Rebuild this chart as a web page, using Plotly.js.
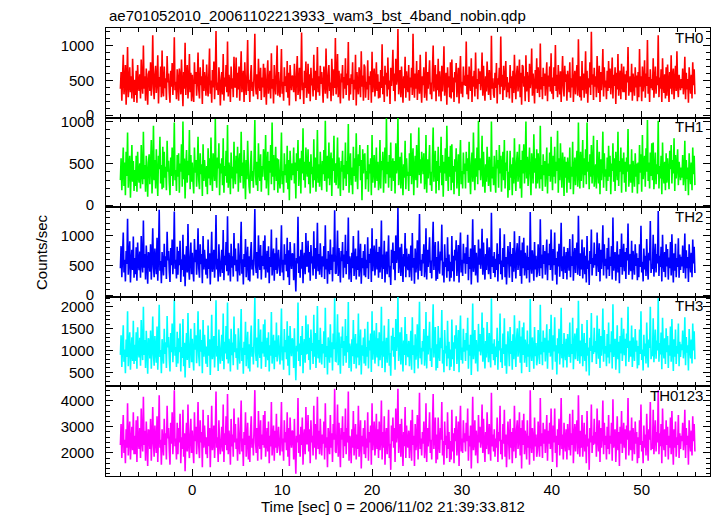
<!DOCTYPE html>
<html>
<head>
<meta charset="utf-8">
<script src="https://cdn.plot.ly/plotly-3.0.1.min.js"></script>
<style>html,body{margin:0;padding:0;background:#fff}#chart{width:717px;height:516px}</style>
</head>
<body>
<div id="chart"></div>
<script>
// ---- data (time grid starts at -8 s, step 0.08 s) ----
const TIME_START = -8;
const TIME_STEP = 0.08;
const bandNames = ["TH0", "TH1", "TH2", "TH3", "TH0123"];

const th0 = [
380,620,210,540,870,300,460,720,150,510,980,260,430,690,330,560,240,810,470,190,
510,290,640,180,720,430,350,590,240,800,460,310,1000,380,560,210,670,440,150,590,
640,350,760,280,520,1150,400,230,590,710,320,480,860,170,550,410,700,260,930,360,
270,700,390,530,220,850,470,600,330,180,640,410,750,290,520,1120,360,480,230,660,
490,210,670,540,300,800,440,130,620,380,1040,290,560,720,240,450,880,330,610,200,
580,340,190,760,450,620,280,510,900,370,240,690,430,560,160,800,350,620,470,280,
730,420,270,590,960,310,500,180,650,400,770,230,540,1210,360,470,290,690,520,140,
450,620,300,880,210,540,410,720,330,1060,270,580,460,190,700,380,530,260,840,410,
400,830,250,610,370,700,210,560,920,330,480,640,190,760,430,290,590,1080,350,510,
190,560,720,350,480,270,640,1170,420,300,590,230,810,460,350,680,220,540,400,740,
260,680,420,150,570,790,310,460,640,240,890,380,520,170,720,450,300,610,1000,280,
620,380,260,540,950,310,480,210,690,420,560,330,780,250,610,140,720,490,360,570,
550,330,740,460,200,600,850,290,410,680,230,530,1190,360,470,160,640,390,770,250,
400,740,310,590,200,680,430,530,270,870,360,640,220,490,980,330,560,280,710,450,
620,410,180,700,490,310,960,430,240,580,720,350,470,200,810,540,280,660,390,1110,
300,520,880,260,640,390,170,600,470,720,240,550,380,820,290,600,430,1050,210,530,
300,590,450,760,220,510,370,870,140,620,440,300,690,530,260,920,410,570,210,730,
690,250,480,370,790,220,560,440,630,180,910,330,500,670,270,440,760,350,590,240,
480,250,650,390,1020,300,560,190,710,440,610,270,830,370,500,160,680,420,590,940,
350,600,200,810,440,530,1240,300,470,650,260,700,420,180,560,390,840,250,630,410,
330,720,210,540,400,680,290,1170,460,250,600,380,780,220,510,650,310,870,430,180,
560,430,690,250,370,910,210,620,380,540,790,300,470,230,650,1000,340,510,720,200,
590,360,810,270,630,450,200,710,340,540,990,280,470,610,150,690,400,560,260,760,
240,800,330,540,190,620,470,750,260,440,680,170,590,850,310,480,260,700,430,570,
420,1060,300,580,230,700,480,350,820,190,560,410,640,270,900,380,520,230,670,450,
630,360,480,900,280,710,400,210,560,340,770,490,290,650,410,220,1140,380,530,300,
250,610,390,750,170,530,440,680,300,1130,410,580,220,710,360,490,780,260,550,330,
470,240,720,390,560,180,640,320,870,450,230,590,710,340,480,800,260,610,150,720,
700,410,560,200,860,340,620,470,190,740,390,510,960,280,600,430,170,650,380,820,
320,690,450,260,1030,370,550,230,680,420,600,280,520,760,200,570,410,700,340,890,
310,540,230,690,420,1010,350,580,260,720,460,300,630,190,540,850,400,270,710,480,
590,210,640,470,330,760,250,530,400,830,190,480,640,300,560,720,280,1090,430,260,
560,210,780,360,600,250,470,920,310,640,180,530,400,760,290,1200,440,590,220,680,
410,560,260,850,480,320,710,190,620,360,550,950,270,690,400,500,230,640,350,780,
390,670,300,510,830,240,580,420,690,160,610,370,880,280,500,640,230,740,450,330,
700,330,590,220,640,470,980,280,410,560,330,740,210,600,460,280,690,400,570,200,
620,260,950,410,560,200,700,340,480,790,250,600,420,1080,310,550,190,660,390,520,
360,820,250,480,700,310,560,430,1150,260,540,380,660,190,820,450,320,590,240,690,
280,730,450,190,620,380,860,300,540,670,230,490,710,350,920,420,260,580,470,360,
520,390,670,300,450,840,230,610,370,520,180,690,470,310,580,240,760,430,660,300];

const th1 = [
300,560,180,420,690,230,510,120,640,350,870,210,460,590,90,400,720,280,530,170,
420,230,590,160,640,350,270,500,200,720,390,250,880,310,480,160,590,370,100,510,
610,250,470,780,140,390,950,300,540,200,670,350,110,590,430,820,260,480,190,700,
210,640,330,460,180,770,400,530,270,120,570,350,690,230,450,990,300,420,170,600,
340,620,150,500,400,730,220,1000,310,560,80,450,660,270,530,360,900,190,600,280,
510,280,140,690,390,540,220,440,820,300,190,620,370,490,110,730,290,540,400,220,
470,130,680,320,560,240,810,400,170,620,450,290,1030,360,210,570,440,740,120,500,
380,560,240,800,150,470,350,650,270,960,210,510,390,130,630,320,460,200,760,350,
250,590,380,700,160,490,620,270,880,350,510,200,660,410,70,540,310,770,430,220,
140,490,650,290,410,210,570,1020,360,240,520,170,740,400,290,610,160,470,340,670,
580,300,840,200,450,640,120,530,390,720,250,990,340,600,180,480,700,290,560,150,
550,320,200,470,870,250,410,150,620,360,490,270,710,190,540,60,650,420,300,500,
360,690,260,510,80,620,410,780,230,470,560,140,650,380,920,300,520,210,690,440,
340,670,250,520,140,610,370,460,210,790,300,570,160,420,900,270,490,220,640,390,
180,530,370,660,290,1010,400,160,590,320,750,240,490,630,110,560,410,830,270,500,
240,450,810,200,570,330,110,530,400,650,180,480,320,750,230,530,370,970,150,460,
620,240,450,130,700,350,560,280,860,400,190,610,470,720,300,540,60,670,380,590,
620,190,410,310,720,160,490,380,560,120,840,270,430,600,210,380,690,290,520,180,
310,780,200,530,420,640,150,480,690,260,1040,370,520,210,600,330,750,170,450,560,
290,530,140,740,380,460,1050,240,400,580,200,630,360,120,490,330,770,190,560,350,
400,170,620,350,860,250,510,680,120,440,590,300,720,210,480,930,360,550,260,640,
490,370,620,190,310,840,150,550,320,470,720,240,400,170,580,930,280,440,650,140,
530,290,700,180,470,390,820,240,600,100,520,380,680,290,950,430,170,580,340,710,
180,730,270,470,130,550,400,680,200,380,610,110,520,780,250,410,200,630,370,500,
200,640,410,560,270,760,360,130,500,630,280,870,410,180,560,340,690,250,1010,420,
560,300,410,830,220,640,340,150,490,280,700,420,230,580,350,160,1000,320,460,240,
590,320,150,660,440,540,210,720,380,590,160,480,640,300,780,200,510,410,650,90,
400,180,650,330,490,120,570,260,800,390,170,520,640,280,410,730,200,540,90,650,
380,730,260,490,1000,320,580,230,460,690,350,120,620,450,260,850,390,560,200,670,
260,620,390,200,950,310,480,170,610,360,530,220,450,690,140,500,350,630,280,820,
450,180,590,340,700,260,520,410,890,150,560,300,740,420,210,630,480,110,580,330,
520,150,570,400,270,690,190,460,340,760,130,410,570,240,490,650,220,990,370,200,
640,290,480,780,210,560,360,670,250,990,400,520,190,610,340,720,260,470,830,220,
350,490,200,780,410,260,640,130,550,300,480,880,210,620,340,430,170,570,290,710,
340,590,130,500,410,740,280,560,170,640,460,300,880,230,530,400,690,150,560,370,
630,270,520,160,570,400,910,220,350,490,270,670,150,530,390,220,620,340,500,140,
510,250,720,390,610,160,840,310,470,590,220,680,400,1020,290,510,200,630,350,740,
300,750,190,410,630,250,490,370,1010,200,470,320,590,130,750,380,260,520,180,620,
270,560,380,190,650,430,720,260,540,380,800,170,600,320,470,670,240,520,410,300,
450,330,600,240,380,770,170,540,310,450,120,620,400,250,510,180,690,370,590,240];

const th2 = [
450,820,300,660,1050,380,590,230,740,520,1280,340,610,900,210,560,760,420,980,290,
620,350,800,240,880,530,420,730,290,990,560,380,1250,460,690,260,830,540,190,720,
680,390,850,260,620,1120,470,300,780,560,350,960,240,650,1430,410,570,200,720,530,
330,860,470,650,270,1060,580,740,400,220,790,500,930,350,640,1400,440,590,280,810,
340,740,500,910,220,600,420,1010,310,680,150,560,820,380,1190,470,260,640,880,350,
710,410,230,940,550,760,340,620,1120,450,290,850,520,690,200,990,430,760,570,340,
610,280,930,440,700,180,580,1060,390,520,760,290,640,1340,430,610,230,850,500,310,
550,760,370,1090,250,660,500,890,400,1320,330,710,560,230,860,460,650,310,1040,500,
780,400,590,230,870,520,330,720,1230,360,600,180,690,470,940,300,560,810,250,650,
230,690,890,430,590,330,790,1440,510,370,720,280,1000,560,420,840,260,660,490,910,
430,1000,290,560,740,380,820,200,640,470,1100,330,590,780,240,700,420,960,360,550,
760,460,320,660,1170,380,590,250,850,510,690,400,960,300,750,170,890,600,440,700,
680,250,870,410,60,620,530,1310,370,650,290,760,440,890,200,590,710,350,1040,480,
490,910,380,720,240,840,530,650,330,1070,440,790,270,600,1210,400,690,340,870,550,
300,650,480,820,270,1170,430,610,190,740,510,350,930,420,680,230,800,560,1420,370,
360,640,1080,320,790,480,210,740,570,890,290,680,460,1010,350,740,520,1300,260,650,
570,220,710,450,990,320,590,780,260,650,420,1080,310,540,860,190,620,450,740,330,
850,300,590,450,970,270,690,540,780,220,1120,400,610,830,330,540,940,430,720,290,
810,380,560,1250,270,680,440,910,210,580,730,350,620,1000,300,490,170,760,540,880,
430,740,250,1000,540,650,1460,370,580,800,320,860,510,220,690,480,1040,300,780,500,
420,690,300,570,830,240,1040,460,620,190,780,380,550,920,260,680,1360,410,590,320,
690,530,850,300,460,1120,260,760,470,660,970,370,580,280,800,1230,420,630,890,240,
640,270,900,480,360,730,580,1180,330,560,210,850,470,620,290,970,400,680,230,560,
290,990,400,660,230,760,580,920,320,540,840,210,720,1050,380,590,320,860,530,700,
360,800,520,1010,250,640,440,780,180,600,1270,390,520,840,330,710,460,210,930,510,
780,440,590,1110,340,880,490,260,690,420,950,600,350,800,500,270,1380,470,650,370,
720,300,610,420,870,230,690,520,1120,350,580,260,790,470,1020,300,640,180,560,820,
580,290,890,480,690,220,790,390,1070,550,280,720,870,420,590,990,320,750,190,880,
450,960,330,710,560,280,830,420,640,210,1390,500,360,750,570,240,890,430,660,300,
390,850,550,320,1270,450,680,280,840,520,740,340,640,930,250,700,500,860,420,1100,
580,240,770,500,1050,340,620,180,730,480,860,310,590,1210,400,650,270,810,520,370,
720,260,790,580,410,940,300,650,490,1020,240,590,790,370,690,880,340,1330,530,320,
700,430,930,280,560,800,350,660,210,990,440,580,170,740,520,1100,330,620,460,880,
500,690,320,1050,590,390,870,230,760,440,680,1170,330,850,490,610,280,790,430,960,
320,640,490,820,260,1300,410,590,720,240,550,900,380,680,200,770,470,1030,340,590,
860,400,720,270,790,580,1200,340,500,690,400,910,260,740,560,340,850,490,700,250,
620,300,850,470,1160,380,560,230,780,430,660,320,940,500,260,710,580,1240,370,520,
440,1010,310,590,860,380,690,530,1410,320,660,470,810,230,1010,550,390,720,300,850,
480,770,260,630,450,890,330,1020,560,210,700,410,860,300,620,470,950,290,680,420,
640,480,830,370,550,1030,280,750,450,640,220,850,580,380,710,300,930,530,810,370];

const th3 = [
900,1350,620,1100,1580,740,1020,480,1250,850,1900,640,1130,1420,560,970,1300,760,1680,690,
1130,760,1420,580,1530,990,840,1290,650,1700,1030,780,2000,900,1240,600,1450,1010,470,1280,
1200,820,1460,580,1050,1780,900,650,1330,1000,720,1550,560,1120,2050,850,1010,480,1260,930,
700,1500,920,1190,600,1790,1070,1310,820,520,1400,960,1620,730,1160,2170,880,1080,620,1430,
700,1280,960,1620,520,1080,830,1720,640,1180,380,1040,1400,780,1860,920,600,1150,1500,730,
1270,830,540,1630,1020,1350,710,1130,1900,880,640,1480,970,1240,480,1700,860,1360,1050,700,
1090,620,1570,880,1260,440,1020,1820,800,950,1330,610,1140,2150,860,1100,530,1480,960,700,
1040,1360,760,1850,570,1200,930,1560,800,2100,700,1270,1040,520,1500,890,1180,660,1780,960,
1370,830,1050,560,1510,970,700,1260,1950,760,1060,470,1200,900,1660,640,1020,1430,590,1140,
520,1250,1570,860,1080,680,1400,2210,960,760,1300,610,1720,1030,830,1480,580,1200,930,1600,
860,1710,620,1010,1290,780,1420,520,1120,880,1880,700,1040,1360,570,1230,850,1640,750,990,
1350,900,680,1200,1960,770,1090,560,1490,960,1240,800,1670,650,1340,430,1560,1100,870,1280,
1200,600,1510,840,320,1110,980,2100,760,1160,640,1330,900,1560,480,1060,1260,720,1800,930,
940,1600,780,1290,560,1480,990,1170,690,1820,860,1400,600,1090,2020,820,1240,720,1520,1010,
680,1150,930,1440,600,1980,850,1100,450,1300,990,720,1600,840,1190,540,1390,1030,2200,760,
750,1170,1830,660,1410,900,470,1320,1060,1550,650,1220,880,1720,720,1330,960,2110,600,1160,
1020,520,1260,870,1700,690,1070,1380,590,1160,840,1850,660,980,1480,450,1120,880,1300,700,
1500,650,1080,860,1660,590,1230,1000,1390,510,1900,790,1110,1460,700,990,1630,840,1280,640,
1420,780,1030,2000,600,1210,860,1570,500,1050,1290,720,1110,1720,650,940,420,1340,1000,1520,
860,1310,560,1720,990,1180,2230,760,1060,1420,680,1530,950,520,1230,900,1770,660,1380,960,
850,1220,640,1040,1450,560,1760,900,1120,480,1370,790,1000,1600,590,1190,2120,820,1060,680,
1220,980,1490,650,880,1880,590,1340,910,1180,1660,760,1050,620,1400,2060,840,1130,1540,540,
1140,600,1560,920,760,1290,1050,1930,700,1010,500,1470,930,1110,640,1680,820,1200,550,1020,
630,1710,800,1190,530,1350,1040,1580,690,990,1470,500,1290,1800,780,1070,700,1500,970,1240,
760,1400,1000,1750,580,1130,880,1360,440,1080,2080,800,990,1470,700,1240,910,520,1610,980,
1380,890,1060,1870,740,1520,930,590,1220,840,1650,1090,730,1400,990,610,2190,920,1160,780,
1260,660,1090,850,1520,560,1220,1000,1850,730,1050,600,1390,920,1740,650,1140,470,1010,1440,
1030,640,1540,920,1220,560,1370,800,1810,1010,620,1280,1510,860,1050,1680,720,1320,480,1530,
900,1640,720,1250,1050,620,1460,860,1140,510,2180,970,760,1300,1040,580,1540,870,1170,660,
820,1470,1020,690,2050,910,1200,660,1460,960,1290,750,1120,1600,580,1230,950,1490,860,1820,
1040,560,1350,980,1760,740,1120,450,1280,930,1500,680,1060,1980,820,1150,610,1400,1000,780,
1270,610,1380,1050,850,1640,720,1150,920,1750,570,1040,1390,800,1220,1510,760,2140,980,700,
1230,870,1610,640,1030,1400,760,1170,520,1700,880,1070,430,1290,990,1860,730,1110,920,1520,
960,1220,690,1800,1070,810,1500,600,1330,880,1190,1960,740,1470,930,1100,640,1380,840,1640,
700,1140,960,1440,590,2060,850,1060,1270,560,1010,1580,800,1200,480,1330,930,1750,760,1050,
1500,890,1270,640,1390,1060,2000,740,940,1220,860,1570,620,1300,1020,760,1490,970,1230,590,
1100,660,1480,920,1900,780,1020,540,1360,870,1160,700,1640,990,610,1250,1060,2000,800,970,
870,1740,730,1080,1480,810,1230,1000,2200,740,1170,910,1410,570,1750,1030,820,1280,690,1510,
960,1330,600,1120,880,1550,740,1720,1050,530,1260,860,1480,690,1100,930,1620,640,1200,850,
1140,1010,1460,820,1030,1760,660,1310,950,1120,540,1490,1060,820,1250,700,1620,1000,1440,800];

const th0123 = [
2300,3100,1800,2700,3450,2000,2500,1600,2900,2200,3900,1900,2650,3200,1750,2400,3000,2100,3550,1950,
2650,1950,3250,1650,3400,2400,2150,2950,1800,3700,2500,2050,4150,2300,2850,1700,3200,2450,1500,2900,
2800,2150,3300,1700,2550,3750,2350,1850,3050,2450,2000,3400,1650,2700,4200,2200,2500,1550,2900,2300,
1900,3300,2300,2750,1750,3800,2550,2950,2100,1550,3150,2350,3550,1950,2700,4400,2250,2550,1750,3150,
1950,2950,2400,3500,1600,2600,2150,3650,1850,2750,1300,2500,3150,2050,3850,2350,1800,2700,3300,2000,
2850,2150,1600,3550,2450,3000,1950,2650,3950,2250,1800,3250,2400,2800,1450,3650,2200,3050,2500,1950,
2600,1800,3450,2250,2950,1450,2500,3800,2100,2350,3050,1800,2700,4350,2200,2600,1650,3250,2400,1950,
2450,3000,2050,3850,1650,2750,2300,3400,2100,4250,1950,2850,2450,1550,3300,2250,2700,1850,3700,2400,
3100,2150,2550,1700,3350,2400,1950,2900,4000,2050,2550,1500,2800,2300,3550,1850,2500,3150,1750,2650,
1650,2800,3400,2200,2550,1900,3100,4400,2400,2000,2950,1700,3600,2450,2150,3250,1750,2700,2300,3450,
2200,3600,1850,2450,2950,2050,3200,1600,2650,2250,3950,1900,2500,3050,1700,2850,2200,3500,2000,2400,
3000,2250,1900,2700,3950,2050,2550,1700,3250,2400,2800,2100,3550,1850,2950,1500,3350,2600,2200,2850,
2800,1750,3300,2150,1200,2650,2400,4100,2000,2700,1850,3000,2300,3350,1550,2550,2900,1950,3750,2350,
2350,3450,2050,2900,1600,3250,2400,2650,1900,3800,2200,3100,1750,2550,4150,2150,2850,1950,3300,2450,
1900,2700,2350,3200,1750,3900,2200,2600,1450,2950,2450,1950,3450,2200,2750,1650,3100,2500,4450,2050,
2000,2650,3850,1850,3150,2300,1450,2950,2500,3400,1800,2800,2250,3700,1950,2950,2400,4350,1700,2650,
2500,1600,2900,2200,3600,1900,2600,3100,1750,2700,2150,3800,1850,2450,3250,1400,2650,2250,2950,1950,
3250,1800,2550,2200,3550,1700,2800,2400,3050,1550,3900,2100,2600,3200,1900,2400,3500,2150,2900,1800,
3200,2100,2500,4000,1750,2800,2200,3400,1550,2550,2950,1950,2650,3650,1800,2350,1350,3050,2450,3350,
2200,2950,1650,3700,2400,2750,4450,2000,2500,3100,1850,3300,2350,1500,2800,2250,3750,1800,3050,2350,
2200,2850,1800,2500,3250,1700,3650,2300,2650,1500,3100,2100,2450,3450,1750,2750,4300,2150,2550,1900,
2800,2350,3200,1800,2200,3900,1650,2950,2250,2700,3550,2000,2500,1750,3050,4250,2150,2650,3350,1600,
2700,1750,3350,2300,2000,2950,2500,3950,1900,2450,1550,3200,2300,2650,1800,3550,2150,2800,1650,2450,
1750,3650,2050,2750,1600,2950,2450,3400,1900,2400,3200,1500,2900,3800,2050,2550,2000,3250,2400,2750,
2050,3150,2450,3700,1700,2650,2250,3050,1400,2550,4150,2100,2400,3250,1900,2850,2300,1600,3450,2400,
3000,2200,2500,3850,2000,3300,2300,1650,2800,2150,3550,2550,1950,3100,2400,1700,4300,2250,2700,2050,
2900,1850,2550,2200,3350,1650,2800,2450,3800,1950,2500,1750,3100,2350,3650,1850,2700,1450,2450,3200,
2450,1750,3300,2200,2800,1600,2950,2050,3800,2450,1800,2900,3250,2150,2500,3550,1900,2950,1400,3250,
2300,3500,1950,2850,2500,1750,3250,2200,2650,1550,4400,2400,2000,2950,2500,1700,3350,2250,2700,1850,
2100,3200,2450,1850,4100,2250,2750,1800,3150,2350,2900,2000,2650,3450,1700,2850,2350,3150,2150,3700,
2500,1650,3050,2400,3700,2000,2650,1450,2900,2300,3300,1900,2500,4100,2150,2700,1750,3150,2450,2050,
2900,1750,3100,2500,2100,3500,1900,2750,2300,3650,1600,2550,3100,2050,2800,3250,1950,4200,2400,1850,
2850,2200,3450,1850,2500,3150,2050,2700,1600,3600,2250,2550,1350,2950,2400,3850,2000,2650,2300,3300,
2350,2800,1850,3700,2550,2050,3250,1650,2950,2200,2750,4000,1950,3150,2300,2650,1750,3000,2150,3450,
1950,2650,2350,3150,1700,4050,2200,2500,2900,1650,2450,3400,2100,2800,1500,3000,2350,3600,2000,2500,
3150,2200,2900,1750,3050,2500,4100,1900,2350,2850,2100,3350,1700,2950,2450,1950,3200,2350,2800,1600,
2600,1800,3250,2300,3850,2050,2450,1600,3050,2200,2700,1900,3500,2400,1700,2900,2500,3950,2100,2350,
2150,3650,1950,2600,3250,2050,2800,2400,4400,1950,2750,2250,3100,1600,3700,2500,2100,2900,1850,3250,
2300,3000,1750,2650,2200,3350,1950,3600,2500,1550,2900,2200,3200,1850,2600,2300,3450,1800,2750,2150,
2650,2450,3150,2100,2500,3650,1800,2950,2300,2650,1550,3250,2500,2050,2850,1900,3400,2450,3100,2050];

const seriesValues = [th0, th1, th2, th3, th0123];
const yTickVals = [[0, 500, 1000], [0, 500, 1000], [0, 500, 1000], [500, 1000, 1500, 2000], [2000, 3000, 4000]];
const xTickVals = [0, 10, 20, 30, 40, 50];
const titleText = "ae701052010_20061102213933_wam3_bst_4band_nobin.qdp";
const xTitleText = "Time [sec] 0 = 2006/11/02 21:39:33.812";
const yTitleText = "Counts/sec";

// ---- styling ----
const colors = ["#ff0000", "#00ff00", "#0000ff", "#00ffff", "#ff00ff"];
const yRanges = [[-34, 1253], [-24, 1048], [-28, 1472], [177, 2231], [1115, 4543]];
const yMinor = [100, 100, 100, 100, 200];
const FONT = {family: "Liberation Sans, Arial, sans-serif", size: 15, color: "#000"};

const traces = [];
const layout = {
  width: 717, height: 516,
  margin: {l: 106, r: 7, t: 27.5, b: 40, pad: 0},
  paper_bgcolor: "#fff", plot_bgcolor: "#fff",
  showlegend: false,
  font: FONT,
  annotations: []
};

const n = seriesValues.length;
for (let k = 0; k < n; k++) {
  const sfx = k === 0 ? "" : String(k + 1);
  traces.push({
    type: "scatter", mode: "lines",
    x0: TIME_START, dx: TIME_STEP,
    y: seriesValues[k],
    xaxis: "x" + sfx, yaxis: "y" + sfx,
    line: {color: colors[k], width: 1.6, simplify: false},
    hoverinfo: "skip"
  });
  const top = 1 - k / n, bot = 1 - (k + 1) / n;
  layout["xaxis" + sfx] = {
    domain: [0, 1], anchor: "y" + sfx,
    range: [-9.6, 57.6],
    tickmode: "array", tickvals: xTickVals,
    ticks: "inside", ticklen: 7, tickwidth: 1, tickcolor: "#000",
    minor: {dtick: 2, tick0: 0, ticks: "inside", ticklen: 4, tickcolor: "#000", showgrid: false},
    showline: true, linecolor: "#000", linewidth: 1, mirror: "allticks",
    showgrid: false, zeroline: false,
    showticklabels: k === n - 1,
    ticklabelstandoff: 0,
    tickfont: FONT
  };
  layout["yaxis" + sfx] = {
    domain: [bot, top], anchor: "x" + sfx,
    range: yRanges[k],
    tickmode: "array", tickvals: yTickVals[k],
    ticks: "inside", ticklen: 7, tickwidth: 1, tickcolor: "#000",
    minor: {dtick: yMinor[k], tick0: 0, ticks: "inside", ticklen: 4, tickcolor: "#000", showgrid: false},
    showline: true, linecolor: "#000", linewidth: 1, mirror: "allticks",
    showgrid: false, zeroline: false,
    ticklabelstandoff: 8,
    tickfont: FONT
  };
  layout.annotations.push({
    text: bandNames[k], xref: "paper", yref: "paper",
    x: 1, y: top, xanchor: "right", yanchor: "middle",
    xshift: -5, yshift: -9, showarrow: false, font: FONT
  });
}

layout.annotations.push({
  text: titleText, xref: "paper", yref: "paper",
  x: 0, y: 1, xanchor: "left", yanchor: "middle",
  xshift: 1, yshift: 12.5, showarrow: false, font: FONT
});
layout.annotations.push({
  text: xTitleText, xref: "paper", yref: "paper",
  x: (393 - 106) / 604, y: 0, xanchor: "center", yanchor: "middle",
  yshift: -30, showarrow: false, font: FONT
});
layout.annotations.push({
  text: yTitleText, xref: "paper", yref: "paper",
  x: 0, y: 0.5, xanchor: "center", yanchor: "middle", textangle: -90,
  xshift: -65, showarrow: false, font: FONT
});

Plotly.newPlot("chart", traces, layout, {staticPlot: true, displayModeBar: false});
</script>
</body>
</html>
